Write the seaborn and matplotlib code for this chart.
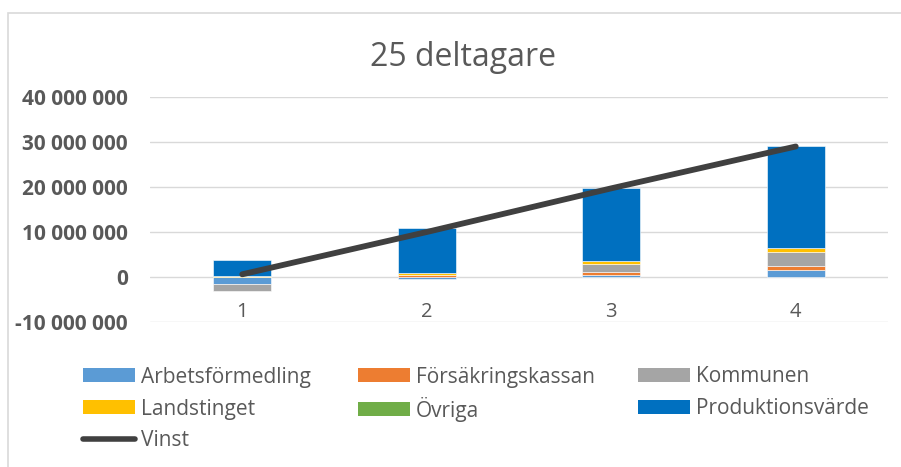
import matplotlib
matplotlib.use("Agg")
import matplotlib.pyplot as plt
import numpy as np
import pandas as pd
import seaborn as sns
from matplotlib.lines import Line2D
from matplotlib.patches import Patch, Rectangle
from matplotlib.ticker import FuncFormatter, MultipleLocator

# values (kronor)
categories = ["1", "2", "3", "4"]
arbetsformedling = [-1_600_000, -500_000, 400_000, 1_500_000]
forsakringskassan = [0, 350_000, 700_000, 950_000]
kommunen = [-1_500_000, 0, 1_800_000, 3_200_000]
landstinget = [300_000, 500_000, 650_000, 900_000]
ovriga = [0, 0, 0, 0]
produktionsvarde = [3_500_000, 10_100_000, 16_300_000, 22_500_000]
vinst = [600_000, 10_000_000, 19_700_000, 29_000_000]

series_names = ["Arbetsförmedling", "Försäkringskassan", "Kommunen",
                "Landstinget", "Övriga", "Produktionsvärde"]
series_values = [arbetsformedling, forsakringskassan, kommunen,
                 landstinget, ovriga, produktionsvarde]
colors = ["#5B9BD5", "#ED7D31", "#A5A5A5", "#FFC000", "#70AD47", "#0070C0"]
line_color = "#404040"
text_color = "#595959"

sns.set_theme(style="white")
plt.rcParams["font.family"] = ["Open Sans", "DejaVu Sans"]

df = pd.DataFrame(dict(zip(series_names, series_values)), index=categories)
df["Vinst"] = vinst
x = np.arange(len(categories))

fig = plt.figure(figsize=(9.01, 4.67), dpi=100)
ax = fig.add_axes([150 / 901, 145 / 467, 738 / 901, 225 / 467])

# stacked bars, positives upward and negatives downward like Excel
pos_base = np.zeros(len(categories))
neg_base = np.zeros(len(categories))
for name, color in zip(series_names, colors):
    vals = df[name].to_numpy(dtype=float)
    bottom = np.where(vals >= 0, pos_base, neg_base)
    ax.bar(x, vals, width=0.317, bottom=bottom, color=color,
           edgecolor="white", linewidth=0.4, zorder=2)
    pos_base += np.clip(vals, 0, None)
    neg_base += np.clip(vals, None, 0)

line_df = pd.DataFrame({"x": x, "Vinst": df["Vinst"].to_numpy()})
sns.lineplot(data=line_df, x="x", y="Vinst", color=line_color, lw=4.2,
             solid_capstyle="round", ax=ax, zorder=3)

ax.set_xlim(-0.5, len(categories) - 0.5)
ax.set_ylim(-10_000_000, 40_000_000)
ax.yaxis.set_major_locator(MultipleLocator(10_000_000))
ax.yaxis.set_major_formatter(FuncFormatter(lambda v, p: f"{int(v):,}".replace(",", " ")))
ax.grid(axis="y", color="#D9D9D9", lw=1.0, zorder=0)
ax.set_axisbelow(True)
for side in ["top", "right", "left"]:
    ax.spines[side].set_visible(False)
ax.spines["bottom"].set_position(("data", 0))
ax.spines["bottom"].set_visible(False)
ax.set_xticks(x)
ax.set_xticklabels(categories)
ax.set_xlabel("")
ax.set_ylabel("")
ax.tick_params(axis="x", length=0, pad=18, labelsize=14.5, labelcolor=text_color)
ax.tick_params(axis="y", length=0, pad=16, labelsize=15, labelcolor=text_color)
for lab in ax.get_yticklabels():
    lab.set_fontweight("bold")

fig.text(463 / 901, 1 - 58 / 467, "25 deltagare", ha="center", va="center",
         fontsize=23, color=text_color)

# chart frame (only top and left edges are visible in the crop)
fig.patches.append(Rectangle((8 / 901, -0.1), 1.2, 1 - 13 / 467 + 0.1,
                             transform=fig.transFigure, fill=False,
                             edgecolor="#D9D9D9", lw=1.2))

# legend laid out row by row, as Excel does
patches = {n: Patch(facecolor=c, edgecolor="none") for n, c in zip(series_names, colors)}
patches["Vinst"] = Line2D([], [], color=line_color, lw=4, solid_capstyle="round")
legend_rows = [["Arbetsförmedling", "Försäkringskassan", "Kommunen"],
               ["Landstinget", "Övriga", "Produktionsvärde"],
               ["Vinst"]]
col_x = [83, 358, 638]
row_y = [377, 409, 441]
for r, row in enumerate(legend_rows):
    for c, name in enumerate(row):
        fig.legend([patches[name]], [name], loc="center left",
                   bbox_to_anchor=(col_x[c] / 901, 1 - row_y[r] / 467),
                   frameon=False, fontsize=15, labelcolor=text_color,
                   handlelength=2.5, handleheight=0.67, handletextpad=0.27,
                   borderpad=0, borderaxespad=0)

fig.savefig("out.png", dpi=100)
